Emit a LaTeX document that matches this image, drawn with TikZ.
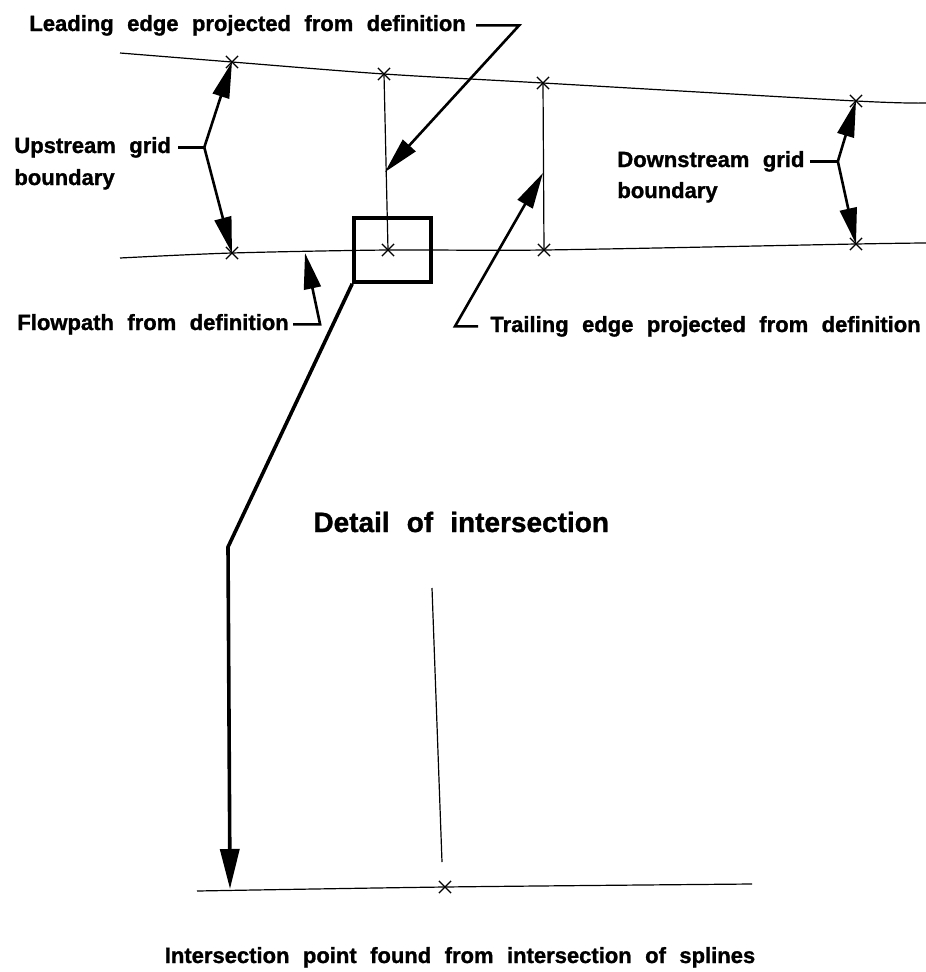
\documentclass[tikz,border=0pt]{standalone}
\usepackage{fontspec}
\setmainfont{Liberation Sans}[WordSpace=2.2, BoldFeatures={FakeBold=1.2}]
\usetikzlibrary{shapes, arrows.meta, positioning}

\begin{document}
\begin{tikzpicture}[x=1pt, y=-1pt, thick]
        % Define styles
        \tikzstyle{labelnode} = [inner sep=0pt, font=\bfseries\fontsize{22}{26}\selectfont]
        \tikzstyle{crossnode} = [cross out, draw, line width=1.2pt, minimum size=11pt, inner sep=0pt]
        \tikzstyle{thinline} = [draw, line width=1.2pt]
        \tikzstyle{leader} = [draw, line width=2.6pt, -{Triangle[length=36pt, width=17pt]}]
        \tikzstyle{bigline} = [draw, line width=3.6pt]

        \useasboundingbox (0,0) rectangle (926,972);

        % Grid points on the two boundaries
        \node [crossnode] (tu) at (232,62) {};
        \node [crossnode] (tl) at (384,74) {};
        \node [crossnode] (tt) at (543,83) {};
        \node [crossnode] (td) at (856,101) {};
        \node [crossnode] (bu) at (232,253) {};
        \node [crossnode] (bl) at (388,250) {};
        \node [crossnode] (bt) at (544,250) {};
        \node [crossnode] (bd) at (856,244) {};
        \node [crossnode] (dx) at (445,887) {};

        % Splines and projected edges
        \draw [thinline] plot [smooth] coordinates {(120,53) (tu.center) (tl.center) (tt.center) (td.center) (926,103)};
        \draw [thinline] plot [smooth] coordinates {(120,258) (bu.center) (bl.center) (bt.center) (bd.center) (926,243)};
        \draw [thinline] (tl.center) -- (bl.center);
        \draw [thinline] (tt.center) -- (bt.center);

        % Detail box
        \node [draw, line width=3.6pt, minimum width=77pt, minimum height=64pt, inner sep=0pt] (box) at (392.5,250) {};

        % Labels
        \node [labelnode, anchor=base west] (lead) at (29,31) {Leading edge projected from definition};
        \node [labelnode, anchor=base west] (up) at (14,153) {Upstream grid};
        \node [labelnode, anchor=base west] (upb) at ([yshift=-32pt]up.base west) {boundary};
        \node [labelnode, anchor=base west] (down) at (617,167) {Downstream grid};
        \node [labelnode, anchor=base west] (downb) at ([yshift=-31pt]down.base west) {boundary};
        \node [labelnode, anchor=base west] (flow) at (17,330) {Flowpath from definition};
        \node [labelnode, anchor=base west] (trail) at (490,332) {Trailing edge projected from definition};
        \node [labelnode, anchor=base west, font=\bfseries\fontsize{28}{32}\selectfont] (detail) at (313,532) {Detail of intersection};
        \node [labelnode, anchor=base] (isect) at (460,963) {Intersection point found from intersection of splines};

        % Arrow ends
        \coordinate (leadtip) at (385,172);
        \coordinate (trailtip) at (543,173);
        \coordinate (flowtip) at (305,253);
        \coordinate (bend) at (228,547);
        \coordinate (dtip) at (230,889);
        \coordinate (dtop) at (432,588);
        \coordinate (dbot) at (442,862);

        % Leaders
        \draw [leader] ([xshift=10pt]lead.east) -- ++(43,0) -- (leadtip);
        \draw [leader] ([xshift=-12pt]trail.west) -- ++(-23,0) -- (trailtip);
        \draw [leader] ([xshift=4pt]flow.east) -- ++(27,0) -- (flowtip);
        \draw [line width=2.6pt] ([xshift=7pt]up.east) -- ++(26,0) coordinate (upknee);
        \draw [leader] (upknee) -- (tu.center);
        \draw [leader] (upknee) -- (bu.center);
        \draw [line width=2.6pt] ([xshift=5pt]down.east) -- ++(28,0) coordinate (downknee);
        \draw [leader] (downknee) -- (td.center);
        \draw [leader] (downknee) -- (bd.center);

        % Detail of intersection
        \draw [bigline, -{Triangle[length=40pt, width=19pt]}] (box.south west) -- (bend) -- (dtip);
        \draw [thinline] (dtop) -- (dbot);
        \draw [thinline] plot [smooth] coordinates {(197,891) (dx.center) (752,884)};

\end{tikzpicture}
\end{document}
